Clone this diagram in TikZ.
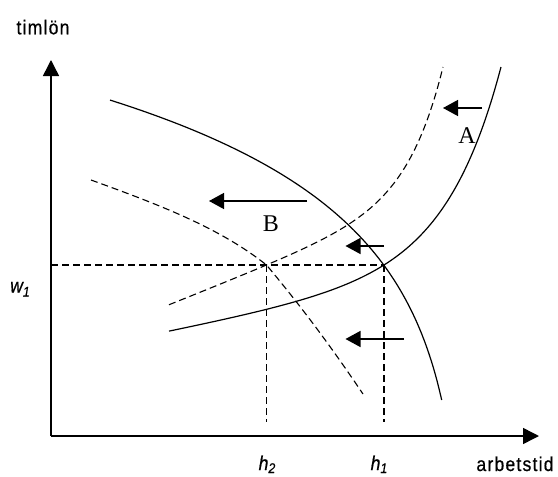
\documentclass[tikz,border=0pt]{standalone}
\usepackage{fontspec}
\setmainfont{Liberation Serif}
\newfontfamily\labfont[FakeStretch=0.88,LetterSpace=6,FakeBold=0.6]{Liberation Sans}
\usetikzlibrary{arrows.meta}
\begin{document}
\begin{tikzpicture}[x=1pt,y=-1pt,
  axis/.style={line width=1.5pt,-{Triangle[length=16pt,width=16pt]}},
  curve/.style={line width=1.2pt},
  dcurve/.style={line width=1.1pt,dash pattern=on 7pt off 4pt},
  guide/.style={line width=1.1pt,dash pattern=on 7pt off 4pt},
  shiftarrow/.style={line width=1.3pt,-{Triangle[length=15pt,width=16pt]}},
  lab/.style={font=\labfont\fontsize{20}{22}\selectfont, inner sep=0pt, anchor=base},
  ser/.style={font=\fontsize{24}{28}\selectfont, inner sep=0pt}]
\useasboundingbox (0,0) rectangle (558,477);
% axes
\coordinate (O) at (51,436);
\coordinate (ytop) at (51,60);
\coordinate (xend) at (539,436);
\draw[axis] (O) -- (ytop);
\draw[axis] (O) -- (xend);
% equilibrium points
\coordinate (E1) at (384,265);
\coordinate (E2) at (266.5,265);
\coordinate (W) at (51,265);
\coordinate (F1) at (384,422);
\coordinate (F2) at (266.5,422);
\draw[guide] (W) -- (E1);
\draw[guide] (E2) -- (F2);
\draw[guide] (E1) -- (F1);
% curves
\draw[curve] plot[domain=110:441.7, samples=80, smooth] (\x, {766-113.3*ln(467-\x)});
\draw[curve] plot[domain=169:501, samples=80, smooth] (\x, {365.4-0.2*\x-198.2*exp((\x-501)/55)});
\draw[dcurve] plot[domain=169:443, samples=80, smooth] (\x, {372.4-0.4*\x-128.2*exp((\x-443)/35)});
\coordinate (d2a) at (91,180);
\coordinate (d2b) at (363,394);
\draw[dcurve] (d2a) .. controls (160,205) and (220,228) .. (E2)
  .. controls (300,305) and (330,345) .. (d2b);
% shift arrows
\coordinate (a1s) at (482,108); \coordinate (a1e) at (443,108);
\coordinate (a2s) at (307,201); \coordinate (a2e) at (209,201);
\coordinate (a3s) at (384,246); \coordinate (a3e) at (345.5,246);
\coordinate (a4s) at (404,339); \coordinate (a4e) at (345.5,339);
\draw[shiftarrow] (a1s) -- (a1e);
\draw[shiftarrow] (a2s) -- (a2e);
\draw[shiftarrow] (a3s) -- (a3e);
\draw[shiftarrow] (a4s) -- (a4e);
% labels
\node[lab] (ylab) at (43,34.3) {timlön};
\node[lab] (xlab) at (515,471) {arbetstid};
\node[lab] (w1) at (20,292.5) {\itshape w\raisebox{-0.2em}{\fontsize{14}{14}\selectfont 1}};
\node[lab] (h2) at (267,470) {\itshape h\raisebox{-0.15em}{\fontsize{14}{14}\selectfont 2}};
\node[lab] (h1) at (379,470) {\itshape h\raisebox{-0.15em}{\fontsize{14}{14}\selectfont 1}};
\node[ser] (A) at (467,136) {A};
\node[ser] (B) at (271,224) {B};
\end{tikzpicture}
\end{document}
